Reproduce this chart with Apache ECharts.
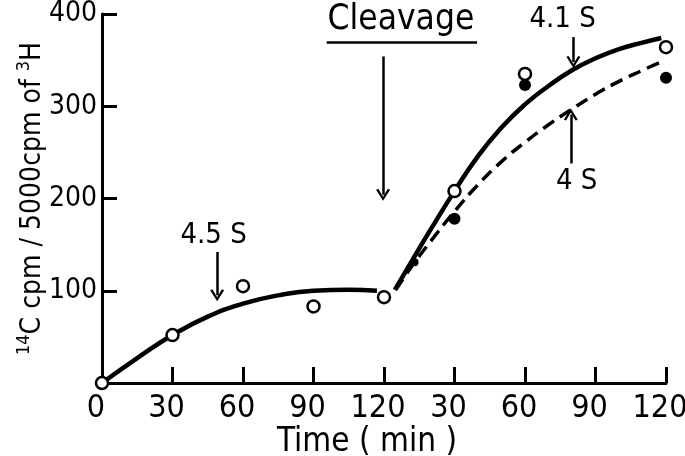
<!DOCTYPE html>
<html>
<head>
<meta charset="utf-8">
<title>Cleavage chart</title>
<script src="https://cdn.jsdelivr.net/npm/echarts@6/dist/echarts.min.js"></script>
<style>
  html,body{margin:0;padding:0;background:#fff;}
  #main{width:685px;height:456px;}
</style>
</head>
<body>
<div id="main"></div>
<script>
// 数据 (x: 0-120 before cleavage, 120-240 after cleavage)
var xTicks = [0, 30, 60, 90, 120, 150, 180, 210, 240];
var openPoints = [[0, 0], [30, 52], [60, 105], [90, 83], [120, 93], [150, 208], [180, 335], [240, 364]];
var filledPoints = [[150, 178], [180, 323], [240, 331]];
var smallFilled = [[133, 131]];
// curves
var curve45S = [[0, 0], [15, 27], [30, 52], [45, 72], [60, 86], [75, 95], [90, 100], [105, 101], [117, 100]];
var curve41S = [[124.6, 101], [132, 133], [140, 167], [150, 208], [160, 246], [170, 277], [180, 302],
    [190, 322], [200, 339], [210, 352], [220, 362], [230, 369], [238, 374]];
var curve4S = [[125, 101], [132, 127], [140, 154], [150, 186], [160, 215], [170, 240], [180, 261],
    [190, 280], [200, 297], [210, 313], [220, 327], [230, 339], [238, 348]];

var FONT = '"DejaVu Sans Condensed", "Liberation Sans", sans-serif';
// chevron arrow head, tip at top
var ARROW = 'path://M0,10 L5,0 L10,10 L8.4,10.8 L5,3.6 L1.6,10.8 Z';

var myChart = echarts.init(document.getElementById('main'));

function textMark(x, y, txt, size){
    return {coord: [x, y], name: txt, symbol: 'circle', symbolSize: 1,
        itemStyle: {color: 'rgba(0,0,0,0)'},
        label: {show: true, position: 'inside', formatter: txt, color: '#000', fontSize: size, fontFamily: FONT}};
}

var option = {
    backgroundColor: '#fff',
    animation: false,
    grid: {left: 102, right: 19, top: 14, bottom: 73, outerBoundsMode: 'none', containLabel: false},
    xAxis: {
        type: 'value', min: 0, max: 240, interval: 30,
        axisLine: {lineStyle: {color: '#000', width: 3}},
        axisTick: {inside: true, length: 16, lineStyle: {color: '#000', width: 3}},
        axisLabel: {color: '#000', fontSize: 32, fontFamily: FONT, margin: 10, padding: [0, 12, 0, 0],
            formatter: function(v){ return v > 120 ? String(v - 120) : String(v); }},
        splitLine: {show: false},
        name: 'Time ( min )', nameLocation: 'middle', nameGap: 43, nameMoveOverlap: false,
        nameTextStyle: {color: '#000', fontSize: 33, fontFamily: FONT, padding: [0, 34, 0, 0]}
    },
    yAxis: {
        type: 'value', min: 0, max: 400, interval: 100,
        axisLine: {show: true, lineStyle: {color: '#000', width: 3}},
        axisTick: {show: true, inside: true, length: 15, lineStyle: {color: '#000', width: 3}},
        axisLabel: {color: '#000', fontSize: 28, fontFamily: FONT, margin: 5,
            formatter: function(v){ return v === 0 ? '' : String(v); }},
        splitLine: {show: false},
        name: '{sup|14}{n|C cpm / 5000cpm of }{sup|3}{n|H}',
        nameLocation: 'middle', nameRotate: 90, nameGap: 55, nameMoveOverlap: false,
        nameTextStyle: {
            color: '#000', fontFamily: FONT,
            rich: {
                n: {fontSize: 28, fontFamily: FONT, color: '#000', lineHeight: 32, verticalAlign: 'bottom'},
                sup: {fontSize: 18, fontFamily: FONT, color: '#000', lineHeight: 32, verticalAlign: 'top'}
            }
        }
    },
    series: [
        {
            name: '4.5 S', type: 'line', data: curve45S, smooth: 0.5,
            showSymbol: false, lineStyle: {color: '#000', width: 4.5}, z: 2
        },
        {
            name: '4.1 S', type: 'line', data: curve41S, smooth: 0.5,
            showSymbol: false, lineStyle: {color: '#000', width: 4.5}, z: 2
        },
        {
            name: '4 S', type: 'line', data: curve4S, smooth: 0.5,
            showSymbol: false, lineStyle: {color: '#000', width: 3.5, type: [13, 7]}, z: 2
        },
        {
            name: 'filled', type: 'scatter', data: filledPoints, symbol: 'circle', symbolSize: 12,
            itemStyle: {color: '#000', opacity: 1}, clip: false, z: 3
        },
        {
            name: 'filled small', type: 'scatter', data: smallFilled, symbol: 'circle', symbolSize: 8,
            itemStyle: {color: '#000', opacity: 1}, clip: false, z: 3
        },
        {
            name: 'open', type: 'scatter', data: openPoints, symbol: 'circle', symbolSize: 12,
            itemStyle: {color: '#fff', borderColor: '#000', borderWidth: 2.5, opacity: 1}, clip: false, z: 4
        },
        {
            // 标注：文字 + 箭头
            name: 'notes', type: 'line', data: [], silent: true,
            markLine: {
                silent: true, animation: false,
                symbol: ['none', ARROW], symbolSize: [14, 12],
                label: {show: false},
                lineStyle: {color: '#000', width: 2.5, type: 'solid'},
                data: [
                    [{coord: [49, 142]}, {coord: [49, 95]}],
                    [{coord: [119.6, 354]}, {coord: [119.6, 204]}],
                    [{coord: [200.6, 375]}, {coord: [200.6, 348]}],
                    [{coord: [199.5, 238]}, {coord: [199.5, 291]}],
                    [{coord: [95.6, 369], symbol: 'none'}, {coord: [159.6, 369], symbol: 'none'}]
                ]
            },
            markPoint: {
                silent: true, animation: false,
                data: [
                    textMark(47.5, 160, '4.5 S', 29),
                    textMark(127.2, 394, 'Cleavage', 35),
                    textMark(196, 394, '4.1 S', 29),
                    textMark(202, 218, '4 S', 29)
                ]
            }
        }
    ]
};
myChart.setOption(option);
</script>
</body>
</html>
